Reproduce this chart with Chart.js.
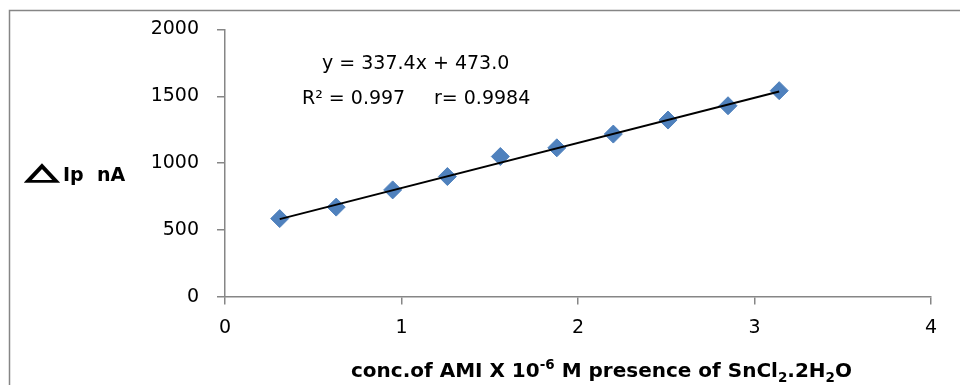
<!DOCTYPE html>
<html>
<head>
<meta charset="utf-8">
<script src="https://cdn.jsdelivr.net/npm/chart.js@4"></script>
<style>
  html, body { margin: 0; padding: 0; background: #fff; overflow: hidden; }
  canvas { display: block; }
</style>
</head>
<body>
<canvas id="calib" width="961" height="385"></canvas>
<script>
// values
const concentrations = [0.31, 0.63, 0.95, 1.26, 1.56, 1.88, 2.20, 2.51, 2.85, 3.14];
const currents = [584, 670, 799, 899, 1049, 1114, 1217, 1322, 1429, 1542];
const trendX = [0.31, 3.14];
const trendY = [580, 1536];
const xTicks = [0, 1, 2, 3, 4];
const yTicks = [0, 500, 1000, 1500, 2000];

const equationText = 'y = 337.4x + 473.0';
const r2Text = 'R\u00B2 = 0.997';
const rText = 'r= 0.9984';
const yLabel = 'Ip  nA';

const FONT = '"DejaVu Sans", sans-serif';
const axisGray = '#868686';

// x title pieces: normal / sup / sub
const xTitle = [
    { t: 'conc.of AMI X 10' },
    { t: '-6', sup: true },
    { t: ' M presence of SnCl' },
    { t: '2', sub: true },
    { t: '.2H' },
    { t: '2', sub: true },
    { t: 'O' }
];

const textPlugin = {
    id: 'textPlugin',
    beforeDraw(chart) {
        const ctx = chart.ctx;
        ctx.save();
        ctx.fillStyle = '#fff';
        ctx.fillRect(0, 0, chart.width, chart.height);
        // outer frame, only left and top edges fall inside the picture
        ctx.strokeStyle = axisGray;
        ctx.lineWidth = 1.5;
        ctx.beginPath();
        ctx.moveTo(9.5, chart.height + 5);
        ctx.lineTo(9.5, 10.5);
        ctx.lineTo(chart.width - 1, 10.5);
        ctx.stroke();
        ctx.restore();
    },
    afterDraw(chart) {
        const ctx = chart.ctx;
        ctx.save();
        ctx.fillStyle = '#000';
        ctx.textBaseline = 'alphabetic';
        ctx.textAlign = 'left';

        // regression text
        ctx.font = '19px ' + FONT;
        ctx.fillText(equationText, 322, 68.5);
        ctx.fillText(r2Text, 302, 104);
        ctx.fillText(rText, 434, 104);

        // y label: delta sign + Ip nA
        ctx.save();
        ctx.font = 'bold 26px ' + FONT;
        ctx.translate(26, 178.5);
        ctx.scale(1.6, 0.85);
        ctx.strokeStyle = '#000';
        ctx.lineWidth = 1.8;
        ctx.fillText('\u25B3', 0, 0);
        ctx.strokeText('\u25B3', 0, 0);
        ctx.restore();
        ctx.font = 'bold 19px ' + FONT;
        ctx.fillText(yLabel, 63, 181);

        // x title with super/subscripts
        const big = 'bold 20px ' + FONT;
        const small = 'bold 13.5px ' + FONT;
        let total = 0;
        xTitle.forEach(p => {
            ctx.font = (p.sup || p.sub) ? small : big;
            total += ctx.measureText(p.t).width;
        });
        let x = 601.5 - total / 2;
        const base = 377;
        xTitle.forEach(p => {
            ctx.font = (p.sup || p.sub) ? small : big;
            let y = base;
            if (p.sup) y = base - 8;
            if (p.sub) y = base + 5;
            ctx.fillText(p.t, x, y);
            x += ctx.measureText(p.t).width;
        });
        ctx.restore();
    }
};

new Chart(document.getElementById('calib'), {
    type: 'scatter',
    data: {
        datasets: [
            {
                label: 'trend',
                type: 'line',
                data: trendX.map((v, i) => ({ x: v, y: trendY[i] })),
                borderColor: '#000',
                borderWidth: 2,
                pointRadius: 0,
                fill: false,
                order: 0
            },
            {
                label: 'Ip',
                data: concentrations.map((v, i) => ({ x: v, y: currents[i] })),
                pointStyle: 'rectRot',
                pointRadius: 9,
                pointBackgroundColor: '#4F81BD',
                pointBorderColor: '#4F81BD',
                pointBorderWidth: 1,
                order: 1
            }
        ]
    },
    options: {
        responsive: false,
        devicePixelRatio: 1,
        animation: false,
        layout: { padding: { top: 29.5, right: 30, bottom: 0, left: 0 } },
        plugins: {
            legend: { display: false },
            tooltip: { enabled: false }
        },
        scales: {
            x: {
                type: 'linear',
                min: 0,
                max: 4,
                afterBuildTicks: axis => { axis.ticks = xTicks.map(v => ({ value: v })); },
                afterFit: scale => { scale.height = 88.4; },
                border: { display: true, color: axisGray, width: 1.5 },
                grid: { drawOnChartArea: false, drawTicks: true, tickLength: 8, color: axisGray, lineWidth: 1.5 },
                ticks: { color: '#000', padding: 12, font: { family: FONT, size: 19 }, callback: v => String(v) }
            },
            y: {
                type: 'linear',
                min: 0,
                max: 2000,
                afterBuildTicks: axis => { axis.ticks = yTicks.map(v => ({ value: v })); },
                afterFit: scale => { scale.width = 225; },
                border: { display: true, color: axisGray, width: 1.5 },
                grid: { drawOnChartArea: false, drawTicks: true, tickLength: 8, color: axisGray, lineWidth: 1.5 },
                ticks: { color: '#000', padding: 18, font: { family: FONT, size: 19 }, callback: v => String(v) }
            }
        }
    },
    plugins: [textPlugin]
});
</script>
</body>
</html>
